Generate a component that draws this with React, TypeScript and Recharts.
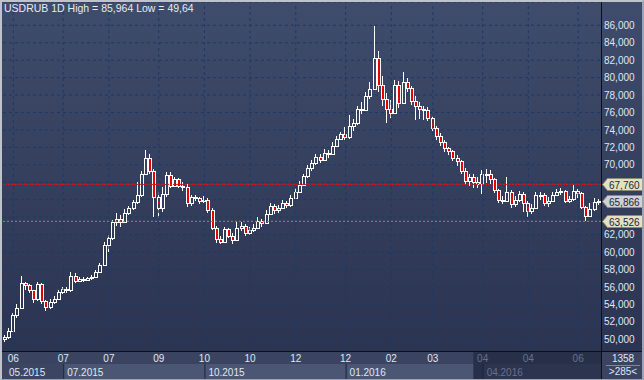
import { Bar, CartesianGrid, ComposedChart, ReferenceLine, XAxis, YAxis } from "recharts";

const WIDTH = 644;
const HEIGHT = 380;
const PLOT_RIGHT = 601;
const PLOT_BOTTOM = 351;
const FONT = "'Liberation Sans', Arial, sans-serif";

const title = "USDRUB 1D High = 85,964 Low = 49,64";

// one candle for roughly every two sessions
const firstOpen = 50.0;
const closes = [
  50.3, 51.0, 52.8, 53.6, 56.5, 56.2, 55.6, 54.6, 56.3, 54.4,
  53.7, 54.3, 54.6, 55.4, 55.8, 55.6, 57.3, 56.7, 56.9, 56.8,
  57.0, 57.1, 57.7, 58.5, 60.8, 61.6, 63.4, 63.8, 63.5, 64.5,
  65.0, 65.7, 66.5, 69.0, 70.8, 69.3, 66.3, 65.0, 66.7, 68.8,
  67.6, 68.4, 67.6, 67.5, 65.6, 66.3, 66.2, 65.9, 66.0, 64.8,
  62.8, 61.5, 61.2, 62.6, 61.9, 61.4, 62.8, 63.0, 62.2, 62.5,
  62.8, 63.6, 63.3, 64.4, 65.3, 64.8, 65.0, 65.6, 65.4, 66.2,
  66.9, 67.7, 68.7, 69.6, 70.2, 70.9, 70.6, 71.4, 71.3, 72.2,
  73.0, 73.5, 73.2, 74.5, 74.8, 76.4, 76.3, 77.9, 78.7, 82.3,
  79.2, 77.6, 76.4, 76.0, 79.2, 77.1, 79.5, 78.8, 77.3, 76.8,
  76.4, 76.3, 75.4, 74.2, 73.3, 72.6, 71.9, 71.6, 70.8, 70.4,
  69.3, 68.2, 68.6, 68.0, 67.8, 68.9, 69.0, 68.4, 67.1, 66.0,
  65.8, 66.9, 65.5, 66.0, 66.7, 65.6, 64.7, 65.1, 66.5, 66.6,
  65.6, 65.9, 66.6, 66.9, 67.0, 65.8, 66.1, 67.0, 66.8, 65.2,
  64.1, 64.9, 65.7, 65.866
];
const highs = [
  50.5, 51.3, 53.0, 54.0, 57.3, 56.6, 56.3, 55.6, 56.6, 56.5,
  54.5, 54.6, 55.0, 55.7, 56.0, 56.0, 57.7, 57.6, 57.2, 57.1,
  57.2, 57.4, 57.9, 58.7, 61.1, 62.0, 63.7, 64.5, 64.3, 64.9,
  65.3, 66.0, 68.0, 69.3, 71.7, 71.2, 69.5, 66.9, 67.5, 69.2,
  69.2, 68.6, 68.5, 68.0, 67.8, 66.6, 66.5, 66.3, 66.4, 66.2,
  65.0, 63.0, 61.8, 62.9, 62.8, 62.2, 63.4, 63.4, 63.2, 62.9,
  63.2, 64.0, 63.8, 64.8, 65.6, 65.5, 65.4, 66.0, 65.9, 66.6,
  67.3, 68.2, 69.0, 70.0, 70.6, 71.3, 71.2, 71.8, 71.7, 72.6,
  73.3, 73.8, 74.3, 75.7, 75.2, 76.8, 77.2, 78.3, 79.5, 85.964,
  83.0, 80.2, 78.2, 77.4, 79.7, 79.6, 80.6, 79.9, 79.0, 77.9,
  77.2, 76.8, 76.6, 75.6, 74.5, 73.6, 72.8, 72.1, 71.7, 71.1,
  70.6, 69.6, 69.0, 68.9, 68.6, 69.4, 69.5, 69.4, 68.5, 67.2,
  66.4, 68.6, 67.1, 66.4, 67.0, 66.9, 65.8, 65.5, 66.9, 66.9,
  66.8, 66.3, 66.9, 67.2, 67.4, 67.1, 66.4, 67.76, 67.2, 66.9,
  65.3, 65.6, 66.2, 66.1
];
const lows = [
  49.64, 50.0, 50.8, 52.5, 53.5, 55.6, 55.3, 54.2, 54.4, 54.0,
  53.3, 53.5, 54.0, 54.5, 55.2, 55.3, 55.4, 56.5, 56.6, 56.6,
  56.7, 56.8, 57.0, 57.6, 58.4, 60.0, 61.4, 63.0, 62.9, 63.4,
  64.3, 64.8, 65.5, 66.3, 68.8, 68.9, 64.0, 63.9, 64.6, 66.3,
  67.3, 67.5, 67.3, 67.0, 65.2, 65.3, 65.8, 65.5, 65.6, 64.5,
  62.5, 61.0, 60.9, 61.0, 61.6, 60.9, 61.3, 62.4, 61.8, 62.0,
  62.3, 62.8, 62.9, 63.2, 64.2, 64.4, 64.5, 64.9, 65.0, 65.2,
  66.1, 66.8, 67.6, 68.5, 69.3, 70.0, 70.2, 70.5, 70.8, 71.2,
  72.1, 72.8, 72.9, 73.0, 73.9, 74.6, 75.8, 76.2, 77.5, 78.6,
  78.4, 76.8, 74.8, 75.4, 75.8, 76.5, 77.0, 78.4, 76.9, 75.1,
  75.3, 75.1, 75.0, 73.9, 72.9, 72.2, 71.5, 71.1, 70.4, 69.9,
  68.9, 67.7, 67.6, 67.4, 67.3, 66.7, 67.9, 67.8, 66.8, 65.6,
  65.5, 65.7, 65.1, 65.2, 65.7, 64.6, 64.0, 64.4, 65.0, 66.0,
  65.3, 65.2, 65.7, 66.4, 66.5, 65.6, 65.6, 65.9, 66.2, 64.9,
  63.526, 64.0, 64.7, 65.4
];

const monthTicks = [2, 14, 25, 37, 48, 59, 70, 82, 93, 103, 115, 126, 138];
const monthLabels = ["06", "07", "07", "09", "10", "10", "12", "12", "02", "03", "04", "04", "06"];
const quarterTicks = [0, 14, 48, 82, 115];
const quarterLabels = ["05.2015", "07.2015", "10.2015", "01.2016", "04.2016"];
const fadeStart = 113;

const yTicks = [50, 52, 54, 56, 58, 60, 62, 64, 66, 68, 70, 72, 74, 76, 78, 80, 82, 84, 86];

const highLevel = 67.76;
const lastPrice = 65.866;
const lowLevel = 63.526;
const barTotal = "1358";
const barsShown = ">285<";

const rows = closes.map((c, i) => ({
  i,
  o: i === 0 ? firstOpen : closes[i - 1],
  h: highs[i],
  l: lows[i],
  c
}));

const fmt = (v: number) => v.toFixed(3).replace(".", ",");

function Candle(props: any) {
  const { x, y, width, height, payload } = props;
  if (!payload) return null;
  const { o, h, l, c } = payload;
  const top = Math.min(y, y + height);
  const bottom = Math.max(y, y + height);
  const span = h - l || 1;
  const py = (v: number) => Math.round(top + ((h - v) / span) * (bottom - top));
  const left = Math.round(x + width / 2 - 2);
  const bTop = py(Math.max(o, c));
  const bBot = py(Math.min(o, c));
  const wx = left + 1.5;
  const down = c < o;
  return (
    <g shapeRendering="crispEdges">
      <line x1={wx} x2={wx} y1={py(h)} y2={bTop} stroke="#ffffff" />
      <line x1={wx} x2={wx} y1={bBot} y2={py(l)} stroke="#ffffff" />
      <rect
        x={left + 0.5}
        y={bTop + 0.5}
        width={3}
        height={Math.max(bBot - bTop, 1)}
        fill={down ? "#e80000" : "none"}
        stroke="#ffffff"
      />
    </g>
  );
}

function TimeTick(props: any) {
  const { x, y, payload } = props;
  const v = payload.value;
  const m = monthTicks.indexOf(v);
  const q = quarterTicks.indexOf(v);
  const faded = v >= fadeStart;
  const txt = faded ? "#66718c" : "#dfe7f4";
  return (
    <g fontFamily={FONT} fontSize={10}>
      {v === fadeStart && (
        <rect x={x - 1} y={y} width={PLOT_RIGHT - x + 1} height={HEIGHT - y} fill="#283049" />
      )}
      {q >= 0 && (
        <g>
          <rect
            x={q === 0 ? x - 5 : x}
            y={y + 13}
            width={PLOT_RIGHT - x + (q === 0 ? 5 : 0)}
            height={15}
            fill={q === 0 ? "#3c4663" : faded ? "#2c3450" : "#4b5674"}
          />
          {q > 0 && <line x1={x + 0.5} x2={x + 0.5} y1={y + 13} y2={HEIGHT} stroke="#1e2438" />}
          <text x={x + 4} y={y + 25} fill={txt}>
            {quarterLabels[q]}
          </text>
        </g>
      )}
      {m >= 0 && (
        <text x={x} y={y + 11} textAnchor="middle" fill={txt}>
          {monthLabels[m]}
        </text>
      )}
    </g>
  );
}

// price labels that sit under a price tag are hidden by it in the original
function PriceTick(props: any) {
  const { x, y, payload } = props;
  const v = payload.value;
  if ([highLevel, lastPrice, lowLevel].some((lv) => Math.abs(lv - v) < 0.6)) return null;
  return (
    <text x={x} y={y} dy="0.355em" fontFamily={FONT} fontSize={10} fill="#dfe7f4">
      {fmt(v)}
    </text>
  );
}

function PriceTag(props: any) {
  const { viewBox, text, fill } = props;
  if (!viewBox) return null;
  const x = viewBox.x + viewBox.width + 1;
  const y = Math.round(viewBox.y);
  return (
    <g>
      <path
        d={`M${x + 0.5},${y + 0.5} L${x + 5.5},${y - 5.5} H${x + 40.5} V${y + 6.5} H${x + 5.5} Z`}
        fill={fill}
        stroke="#8d8a76"
      />
      <text x={x + 7} y={y + 1} dy="0.35em" fontFamily={FONT} fontSize={10} fill="#1b2540">
        {text}
      </text>
    </g>
  );
}

export default function App() {
  return (
    <div
      style={{
        position: "absolute",
        left: 0,
        top: 0,
        width: WIDTH,
        height: HEIGHT,
        background: `linear-gradient(to bottom, #3f4c6b 0px, #2b3451 ${PLOT_BOTTOM}px, #3a4461 ${PLOT_BOTTOM}px, #3a4461 ${HEIGHT}px)`,
        overflow: "hidden"
      }}
    >
      <ComposedChart
        width={WIDTH}
        height={HEIGHT}
        data={rows}
        margin={{ top: 2, right: 0, left: 3, bottom: 0 }}
      >
        <CartesianGrid vertical={false} stroke="#1d3a68" strokeDasharray="3 3" />
        <XAxis
          dataKey="i"
          type="category"
          ticks={[...new Set([...quarterTicks, ...monthTicks, fadeStart])].sort((a, b) => a - b)}
          interval={0}
          tick={<TimeTick />}
          tickLine={false}
          axisLine={false}
          tickSize={0}
          tickMargin={0}
          height={HEIGHT - PLOT_BOTTOM}
        />
        <YAxis
          orientation="right"
          type="number"
          domain={[48.66, 88.67]}
          allowDataOverflow
          ticks={yTicks}
          interval={0}
          width={WIDTH - PLOT_RIGHT}
          tickLine={false}
          axisLine={false}
          tickSize={0}
          tickMargin={3}
          tick={<PriceTick />}
        />
        {monthTicks.map((t) => (
          <ReferenceLine key={t} x={t} stroke="#1d3a68" strokeDasharray="3 3" />
        ))}
        <Bar
          dataKey={(d: any) => [d.l, d.h]}
          shape={<Candle />}
          isAnimationActive={false}
        />
        <ReferenceLine
          y={lowLevel}
          stroke="#36c236"
          strokeDasharray="2 2"
          label={<PriceTag text={fmt(lowLevel)} fill="#e4e0c4" />}
        />
        <ReferenceLine
          y={highLevel}
          stroke="#e01414"
          strokeDasharray="2 1"
          label={<PriceTag text={fmt(highLevel)} fill="#e4e0c4" />}
        />
        <ReferenceLine
          y={lastPrice}
          stroke="transparent"
          label={<PriceTag text={fmt(lastPrice)} fill="#cfd1d4" />}
        />
      </ComposedChart>
      <div
        style={{
          position: "absolute",
          left: 4,
          top: 2,
          fontFamily: FONT,
          fontSize: 10.5,
          color: "#e6ebf3",
          whiteSpace: "nowrap"
        }}
      >
        {title}
      </div>
      <div style={{ position: "absolute", left: 0, top: PLOT_BOTTOM, width: WIDTH, height: 1, background: "#0c0f18" }} />
      <div style={{ position: "absolute", left: PLOT_RIGHT, top: 0, width: 1, height: HEIGHT, background: "#0c0f18" }} />
      <div
        style={{
          position: "absolute",
          left: PLOT_RIGHT + 1,
          top: PLOT_BOTTOM + 1,
          width: WIDTH - PLOT_RIGHT - 1,
          height: HEIGHT - PLOT_BOTTOM - 1,
          fontFamily: FONT,
          fontSize: 10,
          color: "#dfe7f4",
          textAlign: "center"
        }}
      >
        <div style={{ marginTop: 1, lineHeight: "11px" }}>{barTotal}</div>
        <div style={{ margin: "1px 4px 0", height: 1, background: "#7e889c" }} />
        <div style={{ lineHeight: "12px" }}>{barsShown}</div>
      </div>
      <div
        style={{
          position: "absolute",
          inset: 0,
          borderTop: "2px solid #bfc3cb",
          borderLeft: "2px solid #bfc3cb",
          borderRight: "2px solid #9ca3b2",
          borderBottom: "1px solid #9ca3b2",
          pointerEvents: "none"
        }}
      />
    </div>
  );
}
